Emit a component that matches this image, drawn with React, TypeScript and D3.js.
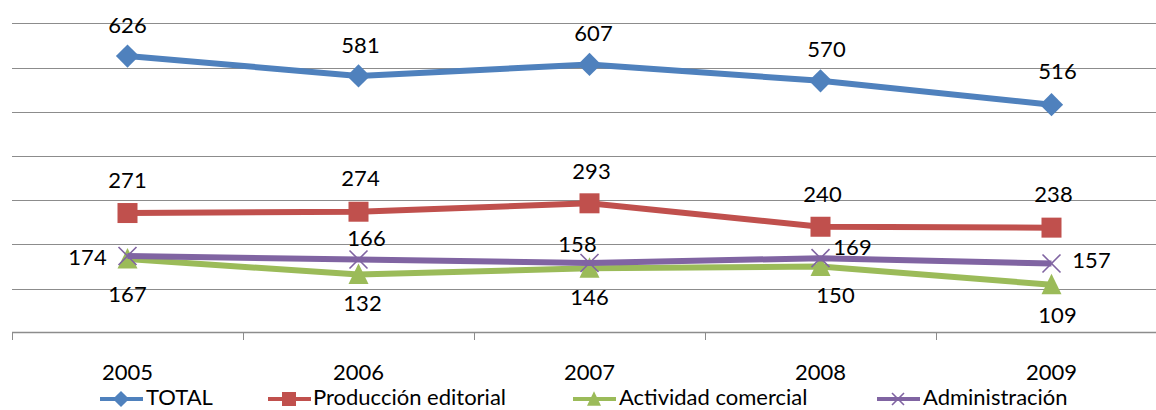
import React from "react";
import * as d3 from "d3";

const years = ["2005", "2006", "2007", "2008", "2009"];
const total = [626, 581, 607, 570, 516];
const produccion = [271, 274, 293, 240, 238];
const actividad = [167, 132, 146, 150, 109];
const administracion = [174, 166, 158, 169, 157];
const yTicks = [0, 100, 200, 300, 400, 500, 600, 700];

type Series = { name: string; values: number[]; color: string; marker: string; labelOffsets: [number, number][] };

const series: Series[] = [
  { name: "TOTAL", values: total, color: "#4F81BD", marker: "diamond",
    labelOffsets: [[0, -31], [2, -31], [4, -31], [6, -31], [6, -33]] },
  { name: "Producción editorial", values: produccion, color: "#C0504D", marker: "square",
    labelOffsets: [[0, -33], [2, -33], [2, -32], [2, -32], [2, -33]] },
  { name: "Actividad comercial", values: actividad, color: "#9BBB59", marker: "triangle",
    labelOffsets: [[0, 35], [4, 29], [0, 29], [15, 29], [6, 31]] },
  { name: "Administración", values: administracion, color: "#8064A2", marker: "x",
    labelOffsets: [[-40, 1], [8, -21], [-12, -19], [32, -11], [40, -3]] },
];

const W = 1156, H = 410;
const FONT = "Lato, 'Open Sans', sans-serif";

function Marker({ type, x, y, color, s }: { type: string; x: number; y: number; color: string; s: number }) {
  if (type === "diamond") {
    const h = s * 0.58;
    return <path d={`M${x},${y - h}L${x + h},${y}L${x},${y + h}L${x - h},${y}Z`} fill={color} />;
  }
  if (type === "square") {
    const h = s / 2;
    return <rect x={x - h} y={y - h} width={s} height={s} fill={color} />;
  }
  if (type === "triangle") {
    const h = s / 2;
    return <path d={`M${x},${y - h * 1.1}L${x + h},${y + h * 0.95}L${x - h},${y + h * 0.95}Z`} fill={color} />;
  }
  const h = s / 2;
  return (
    <path d={`M${x - h},${y - h}L${x + h},${y + h}M${x - h},${y + h}L${x + h},${y - h}`} stroke={color} strokeWidth={1.6} fill="none" />
  );
}

export default function App() {
  const x = d3.scaleBand<string>().domain(years).range([12, 1167]);
  const y = d3.scaleLinear().domain([0, 700]).range([332.9, 23.3]);
  const cx = (d: string) => (x(d) as number) + x.bandwidth() / 2;
  const line = d3.line<number>().x((_, i) => cx(years[i])).y((v) => y(v));

  const tickXs = [...years.map((d) => x(d) as number), 1167];

  const legendItems = [
    { lx: 100, tx: 146 },
    { lx: 268, tx: 313 },
    { lx: 573, tx: 619 },
    { lx: 877, tx: 923 },
  ];
  const ly = 397;

  return (
    <svg width={W} height={H} style={{ position: "absolute", left: 0, top: 0, background: "#fff" }}>
      {yTicks.slice(1).map((t) => (
        <line key={t} x1={12} x2={W} y1={Math.round(y(t)) + 0.5} y2={Math.round(y(t)) + 0.5} stroke="#8C8C8C" strokeWidth={1} />
      ))}
      <line x1={12} x2={W} y1={332.5} y2={332.5} stroke="#8C8C8C" strokeWidth={1.5} />
      {tickXs.map((tx, i) => (
        <line key={i} x1={Math.round(tx) + 0.5} x2={Math.round(tx) + 0.5} y1={332} y2={340} stroke="#8C8C8C" strokeWidth={1} />
      ))}
      {years.map((d) => (
        <text key={d} x={cx(d)} y={372} dy="0.35em" textAnchor="middle" fontFamily={FONT} fontSize={22} fill="#000">{d}</text>
      ))}
      {series.map((s) => (
        <g key={s.name}>
          <path d={line(s.values) || ""} fill="none" stroke={s.color} strokeWidth={6} strokeLinejoin="round" />
          {s.values.map((v, i) => (
            <Marker key={i} type={s.marker} x={cx(years[i])} y={y(v)} color={s.color} s={s.marker === "x" ? 18 : 20} />
          ))}
        </g>
      ))}
      {series.map((s) =>
        s.values.map((v, i) => (
          <text key={s.name + i} x={cx(years[i]) + s.labelOffsets[i][0]} y={y(v) + s.labelOffsets[i][1]} dy="0.35em"
            textAnchor="middle" fontFamily={FONT} fontSize={22} fill="#000">{v}</text>
        ))
      )}
      {series.map((s, i) => {
        const L = legendItems[i];
        const mid = L.lx + 21;
        return (
          <g key={s.name}>
            <line x1={L.lx} x2={L.lx + 43} y1={ly + 2} y2={ly + 2} stroke={s.color} strokeWidth={4} />
            <Marker type={s.marker} x={mid} y={ly + 2} color={s.color} s={s.marker === "x" ? 12 : 14} />
            <text x={L.tx} y={ly} dy="0.35em" fontFamily={FONT} fontSize={22} fill="#000">{s.name}</text>
          </g>
        );
      })}
    </svg>
  );
}
